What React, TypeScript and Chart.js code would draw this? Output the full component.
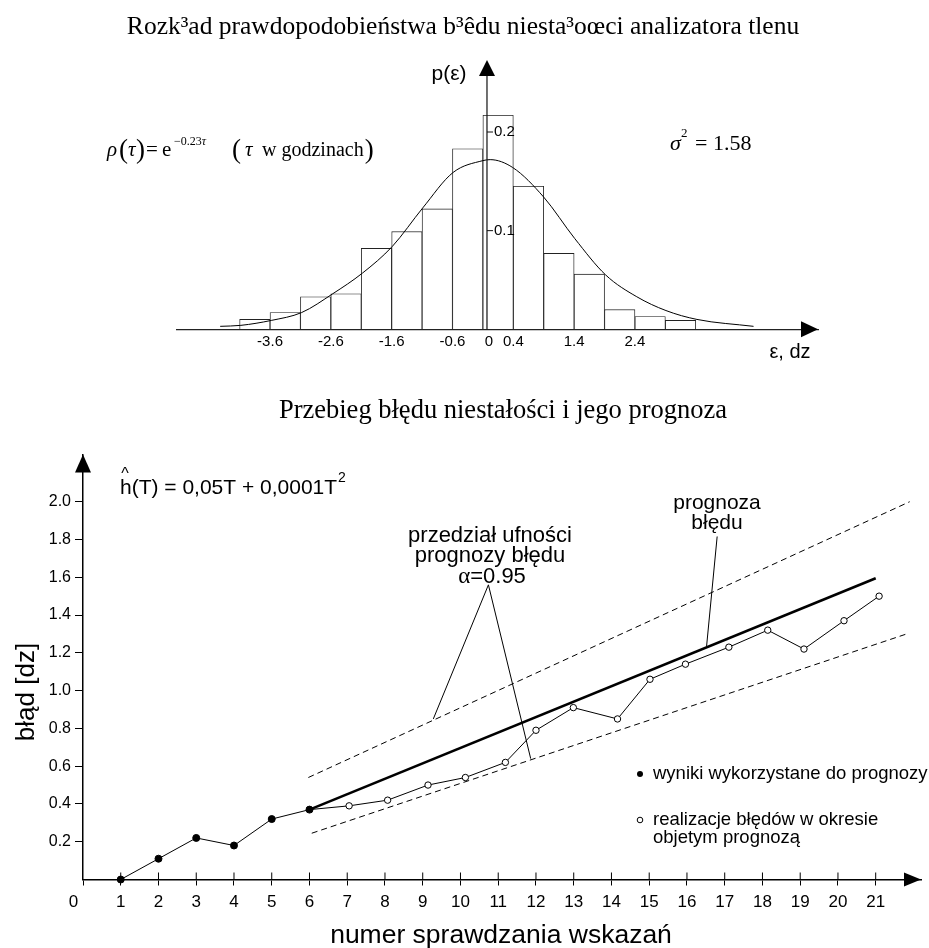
import React, { useEffect, useRef } from 'react';
import { Chart, registerables } from 'chart.js';

Chart.register(...registerables);

const SANS = '"Liberation Sans", Arial, Helvetica, sans-serif';
const SERIF = '"Liberation Serif", "Times New Roman", Times, serif';

// ---------- upper figure: histogram of the instability error ----------
const TITLE_TOP = 'Rozk³ad prawdopodobieństwa b³êdu niesta³oœci analizatora tlenu';
const histCenters = [-3.85, -3.35, -2.85, -2.35, -1.85, -1.35, -0.85, -0.35, 0.15, 0.65, 1.15, 1.65, 2.15, 2.65, 3.15];
const histValues = [0.010, 0.017, 0.033, 0.036, 0.082, 0.099, 0.122, 0.183, 0.217, 0.145, 0.077, 0.056, 0.020, 0.013, 0.009];
const densityX = [-4.42, -4.08, -3.58, -3.08, -2.57, -2.08, -1.59, -1.09, -0.59, -0.1, 0.02, 0.39, 0.9, 1.41, 1.92, 2.43, 2.91, 3.42, 4.35];
const densityY = [0.003, 0.004, 0.009, 0.017, 0.036, 0.057, 0.084, 0.123, 0.159, 0.171, 0.172, 0.164, 0.134, 0.092, 0.055, 0.033, 0.019, 0.010, 0.003];
const histXTicks = [-3.6, -2.6, -1.6, -0.6, 0, 0.4, 1.4, 2.4];
const histYTicks = [0.1, 0.2];

// ---------- lower figure: error course and forecast ----------
const TITLE_BOTTOM = 'Przebieg błędu niestałości i jego prognoza';
const X_TITLE = 'numer sprawdzania wskazań';
const Y_TITLE = 'błąd [dz]';
const checkNo = [1, 2, 3, 4, 5, 6, 7.05, 8.07, 9.14, 10.13, 11.19, 12, 12.99, 14.16, 15.02, 15.96, 17.11, 18.14, 19.1, 20.16, 21.09];
const errValue = [0, 0.11, 0.22, 0.18, 0.32, 0.37, 0.39, 0.42, 0.50, 0.54, 0.62, 0.79, 0.91, 0.85, 1.06, 1.14, 1.23, 1.32, 1.22, 1.37, 1.50];
const usedCount = 6;
const forecastX = [6, 21];
const forecastY = [0.37, 1.595];
const upperBandX = [5.97, 21.9];
const upperBandY = [0.54, 2.0];
const lowerBandX = [6.06, 21.82];
const lowerBandY = [0.245, 1.30];
const errXTicks = [0, 1, 2, 3, 4, 5, 6, 7, 8, 9, 10, 11, 12, 13, 14, 15, 16, 17, 18, 19, 20, 21];
const errYTicks = [0.2, 0.4, 0.6, 0.8, 1.0, 1.2, 1.4, 1.6, 1.8, 2.0];

const pts = (xs: number[], ys: number[]) => xs.map((x, i) => ({ x, y: ys[i] }));

function put(ctx: CanvasRenderingContext2D, s: string, x: number, y: number, font: string,
  align: CanvasTextAlign = 'left', baseline: CanvasTextBaseline = 'middle') {
  ctx.font = font;
  ctx.textAlign = align;
  ctx.textBaseline = baseline;
  ctx.fillText(s, x, y);
  return ctx.measureText(s).width;
}
function seg(ctx: CanvasRenderingContext2D, x1: number, y1: number, x2: number, y2: number, w = 1) {
  ctx.beginPath();
  ctx.lineWidth = w;
  ctx.moveTo(x1, y1);
  ctx.lineTo(x2, y2);
  ctx.stroke();
}
function tri(ctx: CanvasRenderingContext2D, a: number[], b: number[], c: number[]) {
  ctx.beginPath();
  ctx.moveTo(a[0], a[1]);
  ctx.lineTo(b[0], b[1]);
  ctx.lineTo(c[0], c[1]);
  ctx.closePath();
  ctx.fill();
}

const histDecor = {
  id: 'histDecor',
  afterDraw(chart: any) {
    const { ctx, chartArea: ca, scales } = chart;
    const x = scales.x, y = scales.y;
    ctx.save();
    ctx.fillStyle = '#000';
    ctx.strokeStyle = '#111';
    put(ctx, TITLE_TOP, 463, 27, `25.5px ${SERIF}`, 'center');
    const ax = x.getPixelForValue(0) - 2;
    seg(ctx, ax, ca.bottom, ax, ca.top + 12, 1.2);
    tri(ctx, [ax, ca.top], [ax - 8, ca.top + 16], [ax + 8, ca.top + 16]);
    tri(ctx, [ca.right, ca.bottom], [ca.right - 17, ca.bottom - 8], [ca.right - 17, ca.bottom + 8]);
    histYTicks.forEach((v) => {
      const py = y.getPixelForValue(v);
      seg(ctx, ax, py, ax + 6, py, 1);
      put(ctx, v.toFixed(1), ax + 7, py, `15px ${SANS}`);
    });
    put(ctx, 'p(ε)', ax - 38, ca.top + 14, `21px ${SANS}`, 'center');
    put(ctx, 'ε, dz', 790, 352, `20px ${SANS}`, 'center');
    // ρ(τ) = e^(−0.23τ)  (τ w godzinach)
    const b = 156;
    put(ctx, 'ρ', 107, b, `italic 21px ${SERIF}`, 'left', 'alphabetic');
    put(ctx, '(', 119, b + 2, `27px ${SERIF}`, 'left', 'alphabetic');
    put(ctx, 'τ', 128, b, `italic 21px ${SERIF}`, 'left', 'alphabetic');
    put(ctx, ')', 136, b + 2, `27px ${SERIF}`, 'left', 'alphabetic');
    put(ctx, '=', 146, b, `21px ${SERIF}`, 'left', 'alphabetic');
    put(ctx, 'e', 162, b, `21px ${SERIF}`, 'left', 'alphabetic');
    const we = put(ctx, '−0.23', 174, b - 11, `12px ${SERIF}`, 'left', 'alphabetic');
    put(ctx, 'τ', 174 + we, b - 11, `italic 12px ${SERIF}`, 'left', 'alphabetic');
    put(ctx, '(', 232, b + 2, `27px ${SERIF}`, 'left', 'alphabetic');
    put(ctx, 'τ', 245, b, `italic 21px ${SERIF}`, 'left', 'alphabetic');
    const wg = put(ctx, 'w godzinach', 262, b, `20px ${SERIF}`, 'left', 'alphabetic');
    put(ctx, ')', 263 + wg, b + 2, `27px ${SERIF}`, 'left', 'alphabetic');
    // σ² = 1.58
    put(ctx, 'σ', 670, 150, `italic 22px ${SERIF}`, 'left', 'alphabetic');
    put(ctx, '2', 681, 137, `13px ${SERIF}`, 'left', 'alphabetic');
    put(ctx, '= 1.58', 695, 150, `22px ${SERIF}`, 'left', 'alphabetic');
    ctx.restore();
  },
};

const errDecor = {
  id: 'errDecor',
  afterDraw(chart: any) {
    const { ctx, chartArea: ca, scales } = chart;
    const x = scales.x, y = scales.y;
    ctx.save();
    ctx.fillStyle = '#000';
    ctx.strokeStyle = '#000';
    put(ctx, TITLE_BOTTOM, 503, 31, `26.5px ${SERIF}`, 'center');
    tri(ctx, [ca.left, ca.top], [ca.left - 8, ca.top + 18], [ca.left + 8, ca.top + 18]);
    tri(ctx, [ca.right, ca.bottom], [ca.right - 17, ca.bottom - 7], [ca.right - 17, ca.bottom + 7]);
    errXTicks.forEach((v) => {
      if (v <= 0) return;
      const px = x.getPixelForValue(v);
      seg(ctx, px, ca.bottom - 7, px, ca.bottom, 1);
    });
    put(ctx, X_TITLE, 501, 556, `26.5px ${SANS}`, 'center');
    ctx.save();
    ctx.translate(27, 312);
    ctx.rotate(-Math.PI / 2);
    put(ctx, Y_TITLE, 0, 0, `26px ${SANS}`, 'center');
    ctx.restore();
    // forecast formula
    const wf = put(ctx, 'h(T) = 0,05T + 0,0001T', 120, 108, `21px ${SANS}`);
    put(ctx, '2', 121 + wf, 98, `14px ${SANS}`);
    put(ctx, '^', 125, 99, `16px ${SANS}`, 'center', 'alphabetic');
    // confidence interval note
    put(ctx, 'przedział ufności', 490, 156, `22px ${SANS}`, 'center');
    put(ctx, 'prognozy błędu', 490, 176, `22px ${SANS}`, 'center');
    ctx.font = `23px ${SERIF}`;
    const wa = ctx.measureText('α').width;
    ctx.font = `22px ${SANS}`;
    const wn = ctx.measureText('=0.95').width;
    const sx = 492 - (wa + wn) / 2;
    put(ctx, 'α', sx, 197, `23px ${SERIF}`);
    put(ctx, '=0.95', sx + wa, 197, `22px ${SANS}`);
    const apx = x.getPixelForValue(10.74), apy = y.getPixelForValue(1.56);
    seg(ctx, apx, apy, x.getPixelForValue(9.28), y.getPixelForValue(0.85), 1);
    seg(ctx, apx, apy, x.getPixelForValue(11.86), y.getPixelForValue(0.64), 1);
    // forecast note
    put(ctx, 'prognoza', 717, 123, `21px ${SANS}`, 'center');
    put(ctx, 'błędu', 717, 143, `21px ${SANS}`, 'center');
    seg(ctx, x.getPixelForValue(16.8), y.getPixelForValue(1.816), x.getPixelForValue(16.52), y.getPixelForValue(1.235), 1);
    // legend
    ctx.beginPath();
    ctx.arc(640, 394, 3, 0, Math.PI * 2);
    ctx.fill();
    put(ctx, 'wyniki wykorzystane do prognozy', 653, 394, `18.5px ${SANS}`);
    ctx.beginPath();
    ctx.lineWidth = 1;
    ctx.arc(640, 440, 2.8, 0, Math.PI * 2);
    ctx.stroke();
    put(ctx, 'realizacje błędów w okresie', 653, 440, `18.5px ${SANS}`);
    put(ctx, 'objetym prognozą', 653, 458, `18.5px ${SANS}`);
    ctx.restore();
  },
};

export default function App() {
  const topRef = useRef<HTMLCanvasElement>(null);
  const botRef = useRef<HTMLCanvasElement>(null);

  useEffect(() => {
    const top = new Chart(topRef.current as HTMLCanvasElement, {
      type: 'bar',
      data: {
        datasets: [
          {
            type: 'line',
            data: pts(densityX, densityY),
            borderColor: '#000',
            borderWidth: 1,
            pointRadius: 0,
            cubicInterpolationMode: 'monotone',
            order: 1,
            clip: false,
          } as any,
          {
            type: 'bar',
            data: pts(histCenters, histValues),
            backgroundColor: '#fff',
            borderColor: '#222',
            borderWidth: 0.9,
            barThickness: 'flex',
            barPercentage: 1,
            categoryPercentage: 1,
            order: 2,
          } as any,
        ],
      },
      options: {
        responsive: false,
        animation: false,
        layout: { padding: { left: 177, right: 111, top: 60, bottom: 0 } },
        plugins: { legend: { display: false }, tooltip: { enabled: false } },
        scales: {
          x: {
            type: 'linear',
            min: -5.13,
            max: 5.41,
            offset: false,
            afterFit: (s: any) => { s.height = 50.7; },
            afterBuildTicks: (s: any) => { s.ticks = histXTicks.map((v) => ({ value: v })); },
            grid: { display: false, drawTicks: false },
            border: { display: true, color: '#222', width: 1.3, z: 1 },
            ticks: {
              padding: 4,
              color: '#000',
              autoSkip: false,
              maxRotation: 0,
              font: { family: SANS, size: 15 },
              callback: (v: any) => String(v),
            },
          },
          y: { display: false, min: 0, max: 0.273 },
        },
      } as any,
      plugins: [histDecor],
    });

    const bottom = new Chart(botRef.current as HTMLCanvasElement, {
      type: 'line',
      data: {
        datasets: [
          {
            data: pts(upperBandX, upperBandY),
            borderColor: '#000', borderWidth: 1, borderDash: [6, 4], pointRadius: 0, clip: false,
          },
          {
            data: pts(lowerBandX, lowerBandY),
            borderColor: '#000', borderWidth: 1, borderDash: [6, 4], pointRadius: 0, clip: false,
          },
          {
            data: pts(forecastX, forecastY),
            borderColor: '#000', borderWidth: 2.6, pointRadius: 0, clip: false,
          },
          {
            data: pts(checkNo, errValue),
            borderColor: '#000',
            borderWidth: 1,
            pointRadius: (c: any) => (c.dataIndex < usedCount ? 3.5 : 3.2),
            pointBackgroundColor: (c: any) => (c.dataIndex < usedCount ? '#000' : '#fff'),
            pointBorderColor: '#000',
            pointBorderWidth: 1,
            clip: false,
          },
        ] as any,
      },
      options: {
        responsive: false,
        animation: false,
        layout: { padding: { left: 0, right: 8, top: 74.5, bottom: 0 } },
        plugins: { legend: { display: false }, tooltip: { enabled: false } },
        scales: {
          x: {
            type: 'linear',
            min: 0,
            max: 22.2,
            offset: false,
            afterFit: (s: any) => { s.height = 68.5; },
            afterBuildTicks: (s: any) => { s.ticks = errXTicks.map((v) => ({ value: v })); },
            grid: { display: true, drawOnChartArea: false, drawTicks: true, tickLength: 6, color: '#000', lineWidth: 1 },
            border: { display: true, color: '#000', width: 1.5, z: 1 },
            ticks: {
              padding: 7,
              color: '#000',
              autoSkip: false,
              maxRotation: 0,
              font: { family: SANS, size: 17 },
              callback: (v: any) => (v === 0 ? '0    ' : String(v)),
            },
          },
          y: {
            type: 'linear',
            min: 0,
            max: 2.25,
            afterFit: (s: any) => { s.width = 83; },
            afterBuildTicks: (s: any) => { s.ticks = errYTicks.map((v) => ({ value: v })); },
            grid: { display: true, drawOnChartArea: false, drawTicks: true, tickLength: 8, color: '#000', lineWidth: 1 },
            border: { display: true, color: '#000', width: 1.5, z: 1 },
            ticks: {
              padding: 4,
              color: '#000',
              font: { family: SANS, size: 16 },
              callback: (v: any) => Number(v).toFixed(1),
            },
          },
        },
      } as any,
      plugins: [errDecor],
    });

    return () => {
      top.destroy();
      bottom.destroy();
    };
  }, []);

  return (
    <div style={{ position: 'fixed', left: 0, top: 0, width: 929, height: 948, background: '#fff', overflow: 'hidden' }}>
      <canvas ref={topRef} width={929} height={380}
        style={{ position: 'absolute', left: 0, top: 0, width: 929, height: 380, display: 'block' }} />
      <canvas ref={botRef} width={929} height={568}
        style={{ position: 'absolute', left: 0, top: 380, width: 929, height: 568, display: 'block' }} />
    </div>
  );
}
